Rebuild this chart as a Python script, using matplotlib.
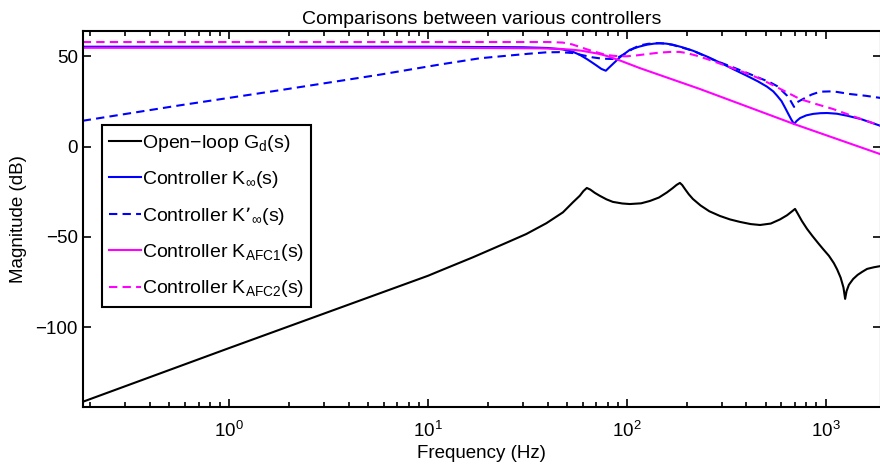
import numpy as np
import matplotlib
matplotlib.use('Agg')
import matplotlib.pyplot as plt

plt.rcParams['font.family'] = ['Liberation Sans', 'DejaVu Sans']
plt.rcParams['mathtext.default'] = 'regular'

# open-loop plant G_d(s)
f_gd = [0.183, 1, 10, 11.4, 16.8, 24.7, 31.2, 39.4, 47.7, 53.6, 58, 60.5, 62.9, 65.5, 69, 73, 79, 85,
        95, 103.5, 118, 130.6, 145, 159, 170, 178, 185, 190, 197, 205, 215, 235, 260, 294, 330, 371,
        420, 468, 530, 590, 640, 675, 702, 725, 760, 807, 860, 920, 971, 1040, 1100, 1143, 1190,
        1230, 1254, 1275, 1310, 1376, 1450, 1530, 1618, 1750, 1900]
db_gd = [-141.3, -111.5, -71.5, -68.9, -61.3, -53.3, -48.4, -42.4, -36.4, -30.8, -27.2, -24.6, -22.9,
         -23.8, -25.6, -27.2, -29.2, -30.6, -31.5, -31.8, -31.4, -30.1, -28.2, -25.4, -23.0, -21.2,
         -20.1, -21.3, -23.8, -26.4, -29.0, -32.6, -35.8, -38.4, -40.3, -41.7, -42.9, -43.4, -42.6,
         -40.3, -38.0, -36.0, -34.5, -37.2, -41.2, -45.6, -49.6, -53.6, -56.7, -60.5, -64.5, -68.0,
         -72.5, -78.0, -84.3, -80.0, -76.5, -73.3, -71.0, -69.3, -67.7, -66.8, -66.1]

# controller K_inf(s)
f_kinf = [0.183, 10, 30, 40, 47.6, 53.5, 58, 62.9, 67, 70.6, 74.5, 78.4, 81.5, 85, 92.2, 103.5, 115,
          126, 137, 146.7, 158, 170.5, 190, 215, 255, 304.6, 350, 402, 455, 507, 545, 570, 600, 625,
          650, 672, 694, 715, 744, 800, 865, 940, 1018, 1140, 1283, 1500, 1900]
db_kinf = [55.3, 55.3, 55.0, 54.6, 53.8, 52.5, 50.8, 48.5, 46.5, 44.8, 43.0, 42.0, 43.8, 45.7, 49.4,
           53.6, 55.3, 56.4, 57.0, 57.2, 57.0, 56.4, 55.0, 53.1, 49.7, 45.7, 42.4, 39.2, 36.2, 33.2,
           30.6, 28.2, 25.2, 21.6, 18.0, 15.0, 12.5, 14.2, 15.8, 17.3, 18.1, 18.5, 18.6, 18.2, 17.1,
           15.3, 11.4]

# controller K'_inf(s)
f_kinf2 = [0.183, 0.56, 1.79, 5.7, 11.4, 18.2, 24.9, 32, 39.5, 46, 53.5, 60, 67.4, 75, 85, 92, 100,
           108, 116, 128, 141.6, 155, 170, 215, 270, 342, 430, 525, 570, 604, 640, 668, 694, 720,
           769, 850, 938, 1091, 1328, 1600, 1900]
db_kinf2 = [14.3, 22.8, 31.2, 39.8, 45.4, 48.9, 50.3, 51.4, 52.2, 52.3, 51.8, 50.6, 49.4, 48.7, 48.5,
            49.8, 52.0, 54.4, 56.0, 56.9, 57.3, 57.1, 56.3, 53.1, 48.2, 43.9, 39.5, 35.6, 33.5, 30.9,
            28.2, 25.2, 22.0, 24.6, 26.3, 28.8, 30.4, 30.6, 29.1, 28.1, 26.9]

# controller K_AFC1(s)
f_afc1 = [0.183, 11.4, 36.5, 46, 53.5, 59, 65, 72, 79.2, 92.2, 116, 233, 694, 1900]
db_afc1 = [54.7, 54.7, 54.4, 54.1, 53.6, 53.1, 52.3, 51.4, 50.2, 47.7, 43.5, 31.9, 12.5, -4.3]

# controller K_AFC2(s)
f_afc2 = [0.183, 40, 47.6, 53, 58, 64, 70.6, 77, 85, 92, 100, 112, 126, 145, 170, 185, 200, 225, 253,
          300, 371, 470, 590, 744, 900, 1091, 1400, 1900]
db_afc2 = [57.9, 57.9, 57.6, 56.6, 55.2, 53.6, 52.2, 51.0, 50.3, 50.0, 50.0, 50.5, 51.2, 52.0, 52.5,
           52.4, 51.8, 50.3, 48.5, 45.6, 42.0, 37.5, 32.0, 26.3, 23.5, 20.8, 16.5, 11.5]

fig = plt.figure(figsize=(8.8, 4.68), dpi=100)
ax = fig.add_axes([82.7 / 880, 61.3 / 468, (881 - 82.7) / 880, 375.7 / 468])

lw = 1.5
ax.semilogx(f_gd, db_gd, color='k', lw=lw, label='Open\u2212loop G$_d$(s)')
ax.semilogx(f_kinf, db_kinf, color='b', lw=lw, label='Controller K$_\\infty$(s)')
ax.semilogx(f_kinf2, db_kinf2, color='b', lw=lw, ls='--', dashes=(4, 2.5),
            label='Controller K\u2019$_\\infty$(s)')
ax.semilogx(f_afc1, db_afc1, color='magenta', lw=lw, label='Controller K$_{AFC1}$(s)')
ax.semilogx(f_afc2, db_afc2, color='magenta', lw=lw, ls='--', dashes=(4, 2.5),
            label='Controller K$_{AFC2}$(s)')

ax.set_xlim(0.183, 1900)
ax.set_ylim(-144, 64)
ax.set_yticks([-100, -50, 0, 50])

ax.tick_params(which='both', direction='in', top=True, right=True, labelsize=13.5)
ax.tick_params(axis='x', which='major', pad=10)
ax.tick_params(which='major', length=6, width=1.2)
ax.tick_params(which='minor', length=3.5, width=1.2)
for s in ax.spines.values():
    s.set_linewidth(1.5)

ax.set_title('Comparisons between various controllers', fontsize=14, pad=5)
ax.set_xlabel('Frequency (Hz)', fontsize=13.5, labelpad=3)
ax.set_ylabel('Magnitude (dB)', fontsize=13.5, labelpad=6)

leg = ax.legend(loc='upper left', bbox_to_anchor=(0.0238, 0.75), borderaxespad=0,
                fontsize=14, handlelength=1.6, handletextpad=0.05, labelspacing=0.78,
                borderpad=0.4, fancybox=False, framealpha=1, edgecolor='k')
leg.get_frame().set_linewidth(1.5)

fig.savefig('out.png', dpi=100)
